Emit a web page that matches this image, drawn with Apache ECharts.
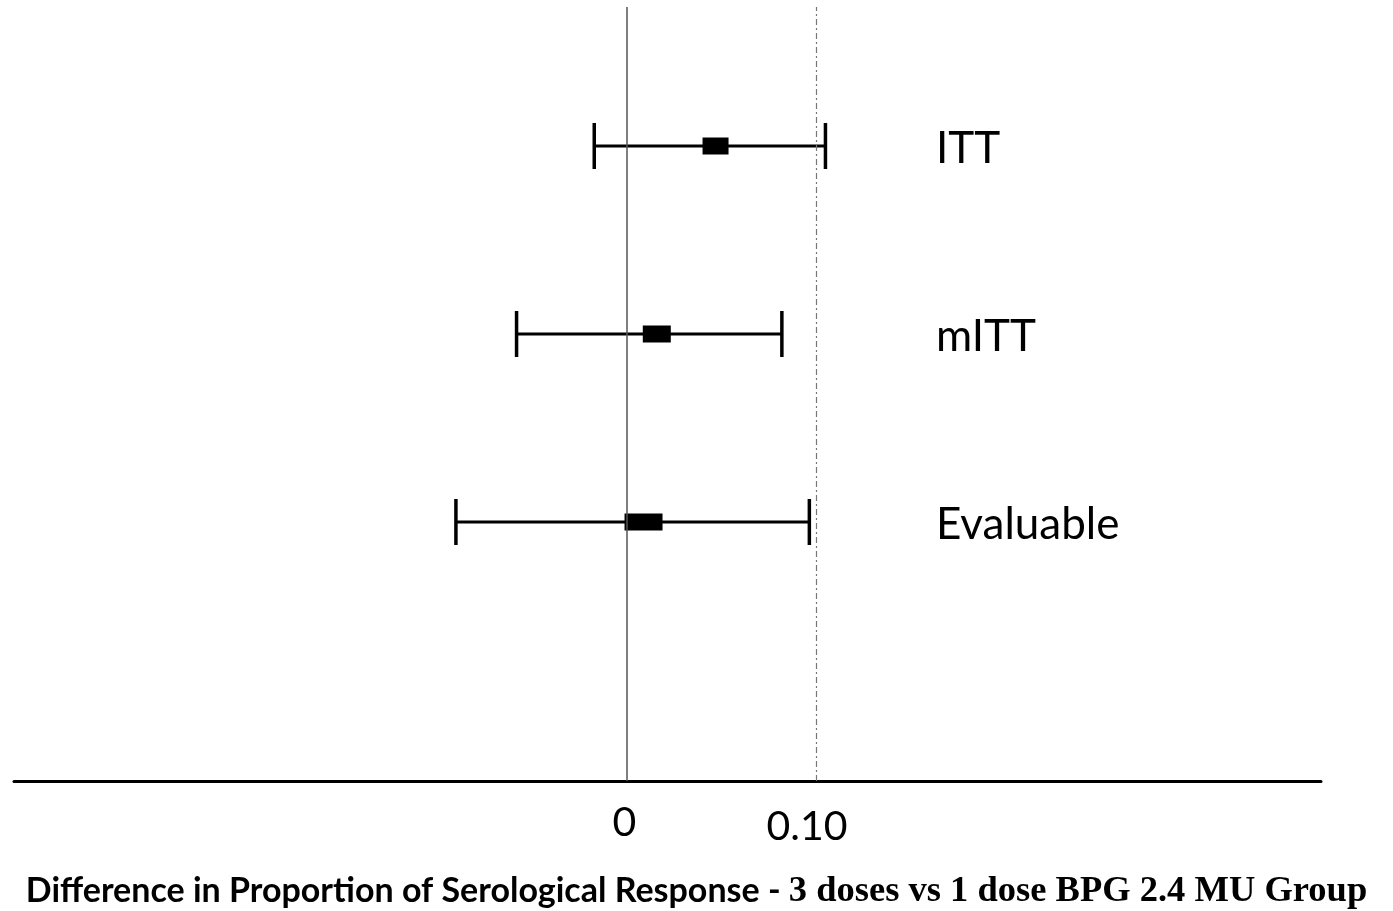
<!DOCTYPE html>
<html><head><meta charset="utf-8">
<script src="https://cdn.jsdelivr.net/npm/echarts@6/dist/echarts.min.js"></script>
<style>html,body{margin:0;padding:0;background:#fff}#c{width:1393px;height:911px}</style>
</head><body><div id="c"></div>
<script>
// ---- data ----
const groups = ['ITT', 'mITT', 'Evaluable'];
const pointEst = [0.047, 0.016, 0.009];
const lowerCI = [-0.017, -0.058, -0.090];
const upperCI = [0.105, 0.082, 0.0965];
const tickValues = [0, 0.10];
const tickLabels = ['0', '0.10'];
const refLines = [0, 0.10];
const xTitleSans = 'Difference in Proportion of Serological Response - ';
const xTitleSerif = '3 doses vs 1 dose BPG 2.4 MU Group';

// ---- style / layout ----
const BOX_W = [26, 28, 38];
const X_MIN = -0.3232, X_MAX = 0.3665;
const LABEL_X = 0.1633;
const LEFT = 14, RIGHT = 72;

const chart = echarts.init(document.getElementById('c'), null, {renderer: 'canvas'});

const option = {
  animation: false,
  backgroundColor: '#fff',
  title: {
    left: 'center', top: 868,
    text: '{a|' + xTitleSans + '}{b|' + xTitleSerif + '}',
    textStyle: {
      rich: {
        a: {fontFamily: 'Lato', fontWeight: 'bold', fontSize: 34, color: '#000'},
        b: {fontFamily: 'Liberation Serif', fontWeight: 'bold', fontSize: 36.5, color: '#000'}
      }
    }
  },
  grid: [
    {left: LEFT, right: RIGHT, top: 7, bottom: 130},
    {left: LEFT, right: RIGHT, top: 52, bottom: 295}
  ],
  xAxis: [
    {
      gridIndex: 0, type: 'value', min: X_MIN, max: X_MAX,
      splitLine: {show: false},
      axisLine: {show: true, onZero: false, lineStyle: {color: '#000', width: 3}},
      axisTick: {show: false},
      axisLabel: {
        customValues: tickValues,
        margin: 21,
        fontFamily: 'Lato', fontSize: 41, color: '#000',
        formatter: function (v) {
          const i = tickValues.findIndex(t => Math.abs(t - v) < 1e-9);
          if (i < 0) return '';
          return (i === 0 ? '{z|' : '{t|') + tickLabels[i] + '}';
        },
        rich: {
          z: {fontFamily: 'Lato', fontSize: 41, color: '#000', padding: [0, 4, 0, 0]},
          t: {fontFamily: 'Lato', fontSize: 41, color: '#000', padding: [4, 18, 0, 0]}
        }
      }
    },
    {gridIndex: 1, type: 'value', min: X_MIN, max: X_MAX, show: false}
  ],
  yAxis: [
    {gridIndex: 0, type: 'value', min: 0, max: 1, show: false},
    {gridIndex: 1, type: 'category', data: groups, inverse: true, show: false}
  ],
  series: [
    {
      type: 'line', xAxisIndex: 0, yAxisIndex: 0, data: [], silent: true,
      markLine: {
        symbol: 'none', silent: true, label: {show: false},
        data: [
          {xAxis: refLines[0], lineStyle: {color: '#555', width: 1.5, type: 'solid'}},
          {xAxis: refLines[1], lineStyle: {color: '#777', width: 1.2, type: [6, 3, 2, 3]}}
        ]
      }
    },
    {
      type: 'custom', xAxisIndex: 1, yAxisIndex: 1,
      data: groups.map((g, i) => [i, lowerCI[i], pointEst[i], upperCI[i]]),
      encode: {x: [1, 2, 3], y: 0},
      renderItem: function (params, api) {
        const i = params.dataIndex;
        const yi = api.value(0);
        const lo = api.coord([api.value(1), yi]);
        const hi = api.coord([api.value(3), yi]);
        const pt = api.coord([api.value(2), yi]);
        const lab = api.coord([LABEL_X, yi]);
        const cy = lo[1];
        const capH = 46, boxH = 17, bw = BOX_W[i];
        const st = {stroke: '#000', lineWidth: 3};
        const cap = {stroke: '#000', lineWidth: 3.5};
        return {
          type: 'group',
          children: [
            {type: 'line', shape: {x1: lo[0], y1: cy, x2: hi[0], y2: cy}, style: st},
            {type: 'line', shape: {x1: lo[0], y1: cy - capH / 2, x2: lo[0], y2: cy + capH / 2}, style: cap},
            {type: 'line', shape: {x1: hi[0], y1: cy - capH / 2, x2: hi[0], y2: cy + capH / 2}, style: cap},
            {type: 'rect', shape: {x: pt[0] - bw / 2, y: cy - boxH / 2, width: bw, height: boxH}, style: {fill: '#000'}},
            {type: 'text', x: lab[0], y: cy + 3, style: {text: groups[i], fill: '#000', fontFamily: 'Lato', fontSize: 44, align: 'left', verticalAlign: 'middle'}}
          ]
        };
      }
    }
  ]
};
chart.setOption(option);
</script>
</body></html>
